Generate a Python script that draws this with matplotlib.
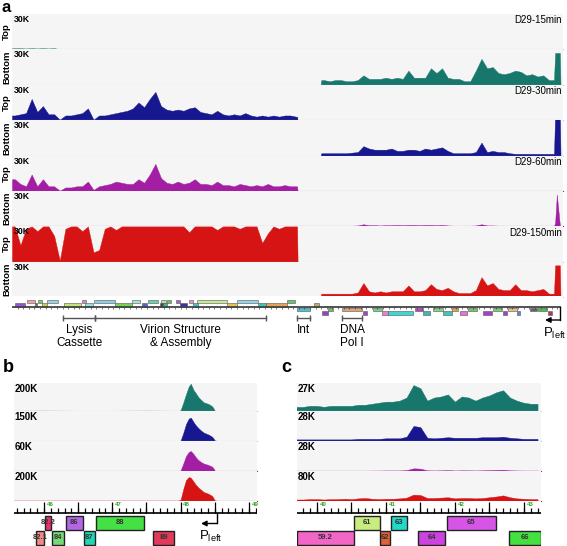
import numpy as np
import matplotlib
matplotlib.use('Agg')
import matplotlib.pyplot as plt
from matplotlib.patches import Rectangle

plt.rcParams['font.family'] = ['Liberation Sans', 'DejaVu Sans']
plt.rcParams['mathtext.default'] = 'regular'

# ---------------- data ----------------
conditions = ['D29-15min', 'D29-30min', 'D29-60min', 'D29-150min']
cond_colors = ['#18776c', '#17178f', '#a31ea3', '#d71414']

# panel a: genome-wide coverage (K reads), top strand, 0.5 kb bins
top_kb = np.arange(0.25, 25.3, 0.5)
top_15 = [1, 1, 0.8, 1, 0.8, 1, 0.8, 1, 0.3, 0.5, 0.5, 0.5, 0.5, 0.5, 0.3, 0, 0,
          0, 0, 0, 0, 0, 0, 0, 0, 0, 0, 0, 0, 0, 0, 0, 0, 0, 0, 0, 0, 0, 0, 0,
          0, 0, 0, 0, 0, 0, 0, 0, 0, 0, 0]
top_30 = [4, 5, 6, 18, 7, 12, 5, 5, 0.5, 4, 4, 5, 6, 10, 0.5, 4, 4, 5, 6, 7,
          8, 10, 15, 11, 18, 24, 12, 9, 8, 9, 8, 10, 11, 7, 6, 5, 8, 5, 4, 5,
          4, 6, 4, 3, 4, 3, 4, 3, 4, 4, 3]
top_60 = [10, 6, 4, 14, 4, 10, 4, 4, 0.3, 3, 3, 4, 4, 8, 1, 4, 5, 6, 8, 7,
          6, 6, 10, 7, 14, 23, 11, 7, 6, 8, 6, 7, 10, 6, 6, 5, 8, 5, 5, 4,
          6, 5, 4, 5, 4, 6, 4, 4, 5, 4, 4]
top_150 = [30, 14, 28, 30, 26, 30, 30, 22, 1, 28, 30, 30, 26, 30, 8, 10, 28, 30, 27, 30,
           30, 30, 30, 30, 30, 30, 30, 30, 30, 30, 30, 25, 30, 30, 30, 30, 27, 30, 30, 30,
           28, 30, 30, 30, 16, 24, 30, 28, 30, 30, 30]

# bottom strand, 0.5 kb bins from 27.5 kb, then the Pleft peak
bot_kb = np.arange(27.75, 47.8, 0.5)
bot_15 = [4, 3, 4, 4, 3, 3, 4, 8, 5, 5, 5, 6, 5, 6, 5, 12, 6, 6, 6, 14,
          10, 14, 6, 5, 5, 3, 3, 12, 22, 14, 15, 10, 9, 10, 12, 11, 8, 9, 7, 8, 4]
bot_30 = [2, 2, 2, 2, 2, 2.5, 3, 8, 6, 5, 5, 5, 6, 4, 4, 5, 5, 4, 6, 5,
          6, 7, 4, 2, 2, 2, 2, 3, 11, 3, 4, 3, 3, 2, 1.5, 1.5, 1.5, 1.5, 1.5, 1.5, 1.5]
bot_60 = [0.5, 0.5, 0.5, 0.5, 0.5, 0.6, 0.8, 1.8, 1, 1, 0.8, 1, 1, 1.2, 1, 1.2, 1.2, 1, 1.2, 1.2,
          1, 1.2, 0.8, 0.6, 0.6, 0.6, 0.6, 0.8, 1.8, 0.8, 0.8, 0.6, 0.6, 0.5, 0.5, 0.5, 0.5, 0.5,
          0.5, 0.5, 0.5]
bot_150 = [3, 3, 3, 3, 3, 3, 4, 12, 5, 4, 5, 4, 5, 5, 5, 10, 5, 5, 6, 11,
           7, 6, 8, 5, 3.5, 3.5, 3.5, 6, 17, 10, 12, 7, 6, 6, 11, 6, 6, 5, 6, 7, 3]
spike_kb = [48.2, 48.3, 48.45, 48.72, 48.78]
spike_15 = [4, 27, 27, 27, 0]
spike_30 = [1.5, 35, 35, 35, 0]
spike_60 = [0.5, 3, 27, 1, 0]
spike_150 = [3, 27, 27, 27, 0]

top_cov = [top_15, top_30, top_60, top_150]
bot_cov = [bot_15, bot_30, bot_60, bot_150]
spike_cov = [spike_15, spike_30, spike_60, spike_150]

# panel a gene map (kb); row 2/1 = top strand, -1/-2 = bottom strand
a_gene_start = [1.33, 2.31, 3.11, 6.23, 7.29, 10.67, 12.09, 13.25, 13.78, 14.58, 15.74, 16.45, 20.01, 24.46,
                0.27, 2.05, 2.67, 4.62, 6.49, 9.16, 11.56, 13.16, 13.43, 14.94, 16.10, 19.12, 21.88, 22.59, 26.86,
                25.35, 28.10, 29.35, 32.10, 35.84, 37.44, 39.13, 40.55, 42.78, 44.11, 46.07, 46.78,
                27.57, 31.2, 32.91, 33.44, 36.55, 38.33, 39.84, 41.89, 43.66, 44.91, 47.67]
a_gene_end = [2.05, 2.67, 4.09, 6.58, 9.16, 11.38, 12.98, 13.70, 14.14, 14.94, 16.10, 19.12, 21.88, 25.17,
              1.16, 2.22, 3.11, 6.14, 7.20, 10.67, 12.0, 13.43, 13.78, 15.56, 16.54, 20.01, 22.59, 24.46, 27.30,
              26.50, 28.55, 31.13, 32.91, 36.55, 38.33, 39.66, 41.35, 43.58, 44.91, 46.69, 47.58,
              28.10, 31.6, 33.44, 35.66, 37.17, 39.13, 40.46, 42.69, 44.02, 45.18, 48.03]
a_gene_row = [2] * 14 + [1] * 15 + [-1] * 12 + [-2] * 11
a_gene_color = ['#e8a4a8', '#78c868', '#96d2e2', '#d884d4', '#8ecce4', '#a8e4d4', '#66d4a4', '#b4e4a4',
                '#66c466', '#a466d4', '#e496c4', '#c4ea94', '#94d4ea', '#66c474',
                '#9454d4', '#448844', '#c4d444', '#c4e474', '#94e4d4', '#74d454', '#5464d4', '#444444',
                '#44b4a4', '#3434a4', '#44c4c4', '#e4c454', '#44c4b4', '#e4a454', '#b4b464',
                '#44c4d4', '#64c464', '#e4a474', '#74d484', '#b444c4', '#84d484', '#e4a444', '#74c464',
                '#74d474', '#e4c484', '#646464', '#44c444',
                '#9444c4', '#a444c4', '#e484c4', '#44d4d4', '#44b4b4', '#44c4b4', '#e474d4', '#a444c4',
                '#a444c4', '#6484d4', '#b43464']

# panel a region annotations
region_names = ['Lysis\nCassette', 'Virion Structure\n& Assembly', 'Int', 'DNA\nPol I']
region_start = [4.54, 7.38, 25.35, 29.35]
region_end = [7.38, 22.59, 26.50, 31.13]

# panel b: Pleft region
b_kb = [45.56, 46.0, 46.5, 47.0, 47.5, 47.97, 48.0, 48.04, 48.08, 48.12, 48.15,
        48.19, 48.22, 48.26, 48.3, 48.34, 48.41, 48.46, 48.48, 48.5, 48.55, 49.12]
b_15 = [2, 3, 2, 2, 3, 2, 5, 60, 120, 175, 195, 150, 130, 100, 80, 62, 50, 35, 22, 3, 1, 1]
b_30 = [0.5, 0.5, 0.5, 0.5, 0.5, 0.5, 2, 40, 85, 112, 117, 95, 80, 65, 52, 42, 32, 22, 14, 3, 0.5, 0.5]
b_60 = [0.3, 0.3, 0.3, 0.3, 0.3, 0.3, 1, 15, 30, 38, 40, 34, 28, 22, 18, 15, 12, 9, 6, 1, 0.3, 0.3]
b_150 = [3, 3, 3, 3, 3, 3, 8, 80, 140, 160, 155, 130, 110, 90, 75, 60, 48, 35, 22, 4, 2, 2]
b_scale = [200, 150, 60, 200]
b_scale_labels = ['200K', '150K', '60K', '200K']
b_gene_names = ['82.2', '86', '88', '82.1', '84', '87', '89']
b_gene_start = [46.01, 46.32, 46.76, 45.88, 46.12, 46.58, 47.60]
b_gene_end = [46.10, 46.57, 47.47, 46.00, 46.29, 46.74, 47.91]
b_gene_row = [1, 1, 1, 2, 2, 2, 2]
b_gene_color = ['#e8336e', '#b466e6', '#44e044', '#f08a8a', '#77d877', '#22d6b4', '#e23a5a']

# panel c: 40-43 kb region
c_kb = np.arange(39.7, 43.25, 0.1)
c_15 = [4, 4, 5, 5, 4, 5, 5, 5, 5, 6, 6, 7, 8, 9, 9, 10, 13, 25, 22, 10,
        13, 14, 16, 9, 14, 13, 10, 13, 15, 18, 20, 13, 10, 8, 7, 7]
c_30 = [1.5, 1.5, 1.5, 1.5, 1.5, 1.5, 1.5, 1.5, 1.5, 2, 2, 2, 2, 2.5, 2.5, 2.5, 4, 14, 13, 3,
        2.5, 3, 3.5, 3, 3, 3, 3, 3.5, 3.5, 3.5, 4, 3, 2.5, 2, 2, 2]
c_60 = [0.3, 0.3, 0.3, 0.3, 0.3, 0.3, 0.3, 0.3, 0.3, 0.3, 0.3, 0.4, 0.4, 0.5, 0.5, 0.5, 0.8, 2.5,
        2.2, 0.6, 0.5, 0.6, 0.8, 0.5, 0.6, 0.6, 0.5, 0.6, 0.8, 1, 1.2, 0.6, 0.5, 0.4, 0.4, 0.4]
c_150 = [4, 4, 5, 5, 4, 5, 5, 6, 5, 7, 8, 6, 5, 6, 6, 7, 9, 17, 16, 8,
         8, 9, 10, 7, 8, 8, 7, 8, 10, 12, 15, 10, 7, 6, 5, 5]
c_scale = [27, 28, 28, 80]
c_scale_labels = ['27K', '28K', '28K', '80K']
c_gene_names = ['61', '63', '65', '59.2', '62', '64', '66']
c_gene_start = [40.54, 41.08, 41.89, 39.71, 40.92, 41.47, 42.78]
c_gene_end = [40.92, 41.31, 42.59, 40.54, 41.06, 41.86, 43.25]
c_gene_row = [1, 1, 1, 2, 2, 2, 2]
c_gene_color = ['#c8ec80', '#22d8c8', '#d655e6', '#f266c8', '#e0603a', '#cc44e0', '#44e040']

# ---------------- figure ----------------
W, H = 567, 546
fig = plt.figure(figsize=(W / 100, H / 100), dpi=100)


def px_axes(x0, y0, x1, y1):
    # axes placed in pixel coordinates (y from the top)
    ax = fig.add_axes([x0 / W, 1 - y1 / H, (x1 - x0) / W, (y1 - y0) / H])
    ax.set_xticks([])
    ax.set_yticks([])
    for s in ax.spines.values():
        s.set_visible(False)
    return ax


def draw_track(ax, x, y, color, ymax, label, base='#c8c8c8', fs=6.3):
    ax.set_facecolor('#f5f5f5')
    ax.fill_between(x, 0, y, color=color, lw=0.3, edgecolor=color)
    ax.set_ylim(0, ymax)
    ax.axhline(0, color=base, lw=0.8, clip_on=False)
    ax.text(0.003, 0.97, label, transform=ax.transAxes, ha='left', va='top',
            fontsize=fs, fontweight='bold')


# panel a tracks
row_h = 35.4
for i in range(4):
    for j, strand in enumerate(['Top', 'Bottom']):
        y0 = 14 + row_h * (2 * i + j)
        ax = px_axes(12, y0, 563, y0 + row_h)
        ax.set_xlim(0, 49)
        if strand == 'Top':
            x = np.r_[0, top_kb, 25.35, 25.4]
            y = np.r_[top_cov[i][0], top_cov[i], top_cov[i][-1], 0]
        else:
            x = np.r_[27.45, 27.5, bot_kb, spike_kb]
            y = np.r_[0, bot_cov[i][0], bot_cov[i], spike_cov[i]]
        base = cond_colors[i] if i == 2 else '#c8c8c8'
        draw_track(ax, x, y, cond_colors[i], 30, '30K', base=base)
        if strand == 'Top':
            ax.text(0.998, 0.96, conditions[i], transform=ax.transAxes, ha='right',
                    va='top', fontsize=7)
        fig.text(6.5 / W, 1 - (y0 + row_h / 2) / H, strand, rotation=90, ha='center',
                 va='center', fontsize=6.8, fontweight='bold')

# panel a gene map and annotations
gm = px_axes(12, 296, 563, 350)
gm.set_xlim(0, 49)
gm.set_ylim(350, 296)
row_y = {2: (299.5, 303.3), 1: (303.3, 306.8), -1: (307.6, 311), -2: (311, 314.5)}
for s, e, r, c in zip(a_gene_start, a_gene_end, a_gene_row, a_gene_color):
    y_top, y_bot = row_y[r]
    gm.add_patch(Rectangle((s, y_top), e - s, y_bot - y_top, fc=c, ec='#555555', lw=0.4))
gm.plot([0, 48.74], [307.2, 307.2], color='#444444', lw=1.3)
gm.vlines(np.arange(0.5, 48.6, 0.5), 307.2, 308.6, color='#444444', lw=0.5)
for name, s, e in zip(region_names, region_start, region_end):
    gm.plot([s, e], [318, 318], color='#555555', lw=1, marker='|', ms=4, mew=1)
    if name.startswith('DNA'):
        gm.text(s - 0.2, 324, name, ha='left', va='top', fontsize=8.5, linespacing=1.1)
    else:
        gm.text((s + e) / 2, 324, name, ha='center', va='top', fontsize=8.5, linespacing=1.1)
# Pleft promoter arrow
gm.plot([48.74, 48.74], [307.2, 320], color='k', lw=1)
gm.annotate('', xy=(47.4, 320), xytext=(48.74, 320),
            arrowprops=dict(arrowstyle='-|>', color='k', lw=1, shrinkA=0, shrinkB=0,
                            mutation_scale=8))
gm.text(48.3, 326, r'$\mathregular{P_{left}}$', ha='center', va='top', fontsize=9.5)


# panels b and c
def zoom_panel(x0, x1, xlim, kb, covs, scales, scale_labels,
               names, starts, ends, rows, colors, pleft=None):
    bounds = [383, 411, 441, 471, 501]
    for i in range(4):
        ax = px_axes(x0, bounds[i], x1, bounds[i + 1])
        ax.set_xlim(*xlim)
        base = cond_colors[i] if i in (2, 3) else '#c8c8c8'
        draw_track(ax, kb, covs[i], cond_colors[i], scales[i], scale_labels[i],
                   base=base, fs=7)
    rm = px_axes(x0, 501, x1, 546)
    rm.set_xlim(*xlim)
    rm.set_ylim(546, 501)
    rm.plot(xlim, [513, 513], color='k', lw=1.2)
    minor = np.arange(np.ceil(xlim[0] * 10) / 10, xlim[1], 0.1)
    rm.vlines(minor, 508, 513, color='k', lw=0.9)
    major = np.arange(np.ceil(xlim[0] * 2) / 2, xlim[1], 0.5)
    rm.vlines(major, 502, 513, color='k', lw=0.9)
    for k in range(int(np.ceil(xlim[0])), int(xlim[1]) + 1):
        rm.text(k + 0.04, 502.5, str(k), color='#2aa52a', fontsize=4.5, va='top',
                ha='left', fontweight='bold')
    for n, s, e, r, c in zip(names, starts, ends, rows, colors):
        y_top = 516 if r == 1 else 531
        rm.add_patch(Rectangle((s, y_top), e - s, 14, fc=c, ec='#222222', lw=1.0))
        rm.text((s + e) / 2, y_top + 7, n, ha='center', va='center', fontsize=5.5,
                fontweight='bold', color='#333333')
    if pleft is not None:
        xs, xe = pleft
        rm.plot([xs, xs], [513, 523.5], color='k', lw=1)
        rm.annotate('', xy=(xe, 523.5), xytext=(xs, 523.5),
                    arrowprops=dict(arrowstyle='-|>', color='k', lw=1, shrinkA=0,
                                    shrinkB=0, mutation_scale=8))
        rm.text(xs - 0.1, 529, r'$\mathregular{P_{left}}$', ha='center', va='top',
                fontsize=9.5)


zoom_panel(14, 257, (45.56, 49.12), b_kb, [b_15, b_30, b_60, b_150], b_scale,
           b_scale_labels, b_gene_names, b_gene_start, b_gene_end, b_gene_row,
           b_gene_color, pleft=(48.54, 48.3))
zoom_panel(297, 541, (39.71, 43.25), c_kb, [c_15, c_30, c_60, c_150], c_scale,
           c_scale_labels, c_gene_names, c_gene_start, c_gene_end, c_gene_row,
           c_gene_color)

# panel letters
fig.text(2 / W, 1 - 8 / H, 'a', fontsize=12, fontweight='bold', va='center')
fig.text(3 / W, 1 - 367 / H, 'b', fontsize=13, fontweight='bold', va='center')
fig.text(281 / W, 1 - 367 / H, 'c', fontsize=13, fontweight='bold', va='center')

fig.savefig('out.png', dpi=100)
